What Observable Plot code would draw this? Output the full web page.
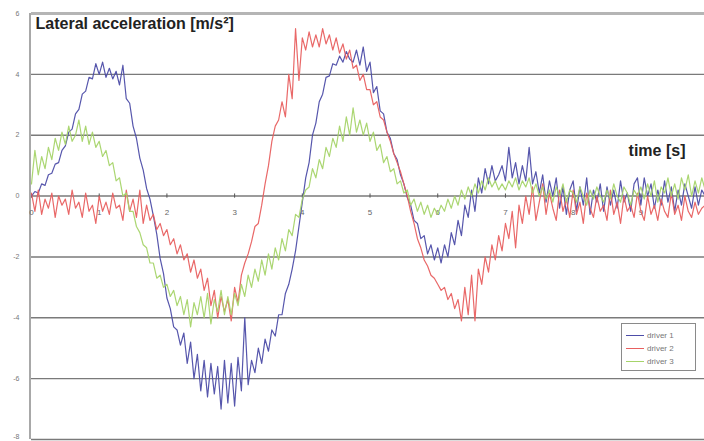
<!DOCTYPE html>
<html>
<head>
<meta charset="utf-8">
<script src="https://cdn.jsdelivr.net/npm/d3@7"></script>
<script src="https://cdn.jsdelivr.net/npm/@observablehq/plot@0.6"></script>
<style>
  html, body { margin: 0; padding: 0; background: #fff; }
  #wrap { position: relative; width: 704px; height: 441px; font-family: "Liberation Sans", Arial, sans-serif; }
  #legend { position: absolute; left: 621px; top: 323px; width: 75px; height: 48px; border: 1px solid #8a8a8a; background: #fff; box-sizing: border-box; font-size: 8px; color: #777; padding-top: 5px; }
  #legend .row { display: flex; align-items: center; height: 13px; }
  #legend .sw { display: inline-block; width: 18px; height: 0; border-top: 1px solid; margin: 0 3px 0 4px; }
</style>
</head>
<body>
<div id="wrap"></div>
<script>
// sample step of the recordings (s)
const step = 0.05;
const seriesNames = ["driver 1", "driver 2", "driver 3"];
const seriesColors = ["#4d4da8", "#e86060", "#a6d46a"];
const yTicks = [-8, -6, -4, -2, 0, 2, 4, 6];
const xTicks = [0, 1, 2, 3, 4, 5, 6, 7, 8, 9];

const driver1 = [
  0.0, 0.15, 0.1, 0.4, 0.35, 0.7, 0.75, 1.05, 1.1, 1.5,
  1.65, 2.1, 2.2, 2.7, 2.85, 3.35, 3.45, 3.9, 3.85, 4.35,
  4.0, 4.4, 3.9, 4.2, 3.85, 4.1, 3.65, 4.3, 3.2, 3.05,
  2.3, 1.9, 1.25, 0.85, 0.25, -0.1, -0.65, -1.25, -2.05, -2.55,
  -3.35, -3.7, -4.3, -4.4, -4.9, -4.5, -5.5, -4.8, -6.0, -5.2,
  -6.4, -5.4, -6.6, -5.5, -6.5, -5.6, -7.0, -5.4, -6.8, -5.5,
  -6.9, -5.3, -6.4, -4.0, -6.2, -5.4, -5.8, -5.0, -5.5, -4.7,
  -5.1, -4.4, -4.6, -3.9, -3.9, -3.2, -2.9, -2.4, -1.8, -1.0,
  -0.2, 0.6, 1.1, 2.0, 2.4, 3.1, 3.35, 3.9, 3.95, 4.35,
  4.3, 4.6, 4.4, 4.75, 4.5, 4.4, 4.8, 4.3, 4.9, 4.1,
  4.4, 3.4, 3.6, 2.8, 2.7, 2.1, 1.9, 1.4, 1.2, 0.7,
  0.4, -0.05, -0.3, -0.8, -0.9, -1.4, -1.3, -1.9, -1.6, -2.1,
  -1.7, -2.2, -1.6, -2.0, -1.2, -1.6, -0.8, -1.3, -0.3, -0.7,
  0.2, -0.5, 0.6, 0.1, 0.9, 0.4, 1.0, 0.5, 0.7, 1.0,
  0.5, 1.6, 0.6, 1.1, 0.4, 1.0, 0.5, 1.6, 0.4, 0.8,
  0.1, 0.7, -0.2, 0.5, 0.0, 0.6, -0.4, 0.3, -0.6, 0.2,
  0.5, -0.5, 0.3, -0.3, 0.6, -0.6, 0.2, -0.2, 0.4, -0.5,
  0.3, -0.3, 0.2, -0.4, 0.5, -0.2, 0.1, -0.5, 0.4, 0.6,
  -0.3, 0.6, 0.0, 0.4, -0.4, 0.2, -0.3, 0.5, -0.2, 0.3,
  -0.5, 0.2, -0.3, 0.4, 0.0, -0.4, 0.3, -0.3, 0.2, 0.0
];

const driver2 = [
  0.1, -0.5, 0.2, -0.6, -0.1, -0.4, 0.1, -0.7, 0.0, -0.3,
  -0.1, -0.6, 0.2, -0.4, -0.2, -0.7, 0.1, -0.5, -0.3, -0.9,
  0.0, -0.5, -0.2, -0.6, 0.1, -0.4, -0.3, -0.8, 0.2, -0.5,
  -0.1, -0.7, 0.2, -0.9, -0.3, -0.8, -0.6, -1.1, -0.9, -1.3,
  -1.1, -1.6, -1.4, -1.9, -1.6, -2.1, -1.9, -2.5, -2.1, -2.7,
  -2.4, -3.1, -2.7, -3.6, -3.1, -4.0, -3.3, -3.8, -3.4, -4.1,
  -3.0, -3.5, -2.6, -2.2, -1.9, -1.5, -1.0, -0.9, -0.3, 0.4,
  1.0, 1.8, 2.3, 2.5, 3.1, 2.6, 4.0, 3.2, 5.5, 3.8,
  5.2, 4.8, 5.4, 4.9, 5.3, 4.9, 5.5, 5.0, 5.3, 4.8,
  5.2, 4.7, 5.0, 4.5, 4.8, 4.2, 4.3, 3.8, 4.0, 3.5,
  3.5, 3.0, 3.1, 2.6, 2.5, 2.1, 1.8, 1.4, 1.1, 0.8,
  0.4, 0.0, -0.5, -0.9, -1.4, -1.7, -2.1, -2.3, -2.6, -2.7,
  -2.9, -3.1, -3.0, -3.4, -3.2, -3.7, -3.4, -4.1, -3.0, -3.9,
  -2.6, -4.1, -2.4, -2.9, -2.0, -2.5, -1.6, -2.1, -1.3, -1.8,
  -0.9, -1.4, -0.5, -1.7, -0.3, -0.9, 0.0, -0.6, 0.3, -0.8,
  -0.2, 0.4, -0.6, 0.1, -0.4, -0.8, 0.2, -0.5, -0.1, -0.7,
  0.2, -0.6, -0.2, -0.9, 0.1, -0.4, -0.7, 0.0, -0.5, -0.3,
  -0.8, 0.2, -0.6, -0.2, -0.9, 0.0, -0.5, -0.3, -0.7, 0.1,
  -0.5, -0.8, 0.0, -0.6, -0.3, -0.8, -0.1, -0.5, -0.7, 0.1,
  -0.6, -0.3, -0.8, 0.0, -0.5, -0.7, -0.2, -0.6, -0.4, -0.3
];

const driver3 = [
  0.4, 1.5, 0.7, 1.3, 0.9, 1.6, 1.2, 1.9, 1.5, 2.1,
  1.7, 2.3, 1.8, 2.0, 2.5, 1.8, 2.3, 1.7, 2.1, 1.6,
  1.8, 1.3, 1.5, 1.0, 1.1, 0.5, 0.6, 0.0, 0.1, -0.5,
  -0.5, -1.0, -1.2, -1.6, -1.7, -2.2, -2.2, -2.7, -2.6, -3.0,
  -2.9, -3.3, -3.1, -3.6, -3.3, -3.9, -3.4, -4.3, -3.5, -3.9,
  -3.3, -4.0, -3.2, -4.2, -3.4, -3.8, -3.1, -3.9, -3.3, -3.9,
  -3.2, -3.6, -2.9, -3.3, -2.6, -3.0, -2.4, -2.8, -2.1, -2.6,
  -1.9, -2.4, -1.7, -2.1, -1.4, -1.8, -1.1, -1.3, -0.6, -0.7,
  -0.1, 0.2, 0.3, 0.9, 0.6, 1.2, 0.9, 1.6, 1.3, 1.9,
  1.6, 2.3, 1.8, 2.6, 2.0, 2.9, 2.1, 2.5, 2.0, 2.4,
  1.8, 2.1, 1.5, 1.7, 1.1, 1.3, 0.8, 0.9, 0.4, 0.5,
  0.1, 0.2, -0.3, -0.1, -0.5, -0.2, -0.6, -0.3, -0.7, -0.4,
  -0.6, -0.3, -0.5, -0.1, -0.4, 0.0, -0.3, 0.2, -0.1, 0.3,
  0.0, 0.4, 0.1, 0.5, 0.2, 0.6, 0.3, 0.5, 0.2, 0.4,
  0.2, 0.5, 0.3, 0.6, 0.2, 0.5, 0.3, 0.6, 0.1, 0.4,
  0.0, 0.3, -0.1, 0.2, -0.2, 0.3, 0.0, 0.4, -0.2, 0.2,
  0.1, -0.2, 0.3, 0.0, -0.3, 0.2, -0.1, 0.3, 0.0, -0.2,
  0.2, -0.1, 0.4, 0.0, -0.2, 0.3, 0.1, -0.3, 0.2, 0.0,
  0.3, -0.1, 0.4, 0.0, 0.5, -0.2, 0.3, 0.1, 0.6, 0.0,
  0.4, -0.1, 0.6, 0.2, 0.7, 0.0, 0.5, 0.1, 0.6, 0.2
];

const seriesData = [driver1, driver2, driver3];
const tx = (d, i) => i * step;
const yLabelStyle = { x: 0, y: d => d, text: d => String(d), dx: -12, textAnchor: "end", fontSize: 7, fill: "#777" };

const plot = Plot.plot({
  width: 704,
  height: 441,
  marginLeft: 31,
  marginRight: 0,
  marginTop: 13,
  marginBottom: 2,
  x: { domain: [0, 9.94], axis: null },
  y: { domain: [-8, 6], axis: null },
  style: { fontFamily: "Liberation Sans, Arial, sans-serif", background: "#fff" },
  marks: [
    // gridlines
    Plot.ruleY(yTicks.filter(v => v !== 6), { stroke: "#7a7a7a", strokeWidth: 1.4 }),
    Plot.ruleY(yTicks.filter(v => v === 6), { stroke: "#b5b5b5", strokeWidth: 3 }),
    // y axis line
    Plot.ruleX([0], { dx: -1.5, stroke: "#a8a8a8", strokeWidth: 2 }),
    // y tick labels (bottom one nudged up so it stays inside the picture)
    Plot.text(yTicks.filter(v => v !== -8), yLabelStyle),
    Plot.text(yTicks.filter(v => v === -8), { ...yLabelStyle, dy: -3 }),
    // x ticks on zero line
    Plot.ruleX(xTicks, { y1: 0.07, y2: -0.07, stroke: "#555", strokeWidth: 1 }),
    Plot.text(xTicks, { x: d => d, y: 0, text: d => String(d), dy: 16, fontSize: 8, fill: "#666" }),
    // series
    ...seriesData.map((s, k) => Plot.line(s, { x: tx, y: d => d, stroke: seriesColors[k], strokeWidth: 1.2, strokeOpacity: 0.95 })),
    // title and axis label
    Plot.text(["Lateral acceleration [m/s²]"], { frameAnchor: "top-left", dx: 4, dy: 4, textAnchor: "start", lineAnchor: "top", fontSize: 16, fontWeight: "bold", fill: "#222" }),
    Plot.text(["time [s]"], { frameAnchor: "top-right", dx: -19, dy: 137, textAnchor: "end", lineAnchor: "middle", fontSize: 16, fontWeight: "bold", fill: "#222" })
  ]
});

const wrap = document.getElementById("wrap");
wrap.appendChild(plot);

const legend = document.createElement("div");
legend.id = "legend";
seriesNames.forEach((n, k) => {
  const row = document.createElement("div");
  row.className = "row";
  const sw = document.createElement("span");
  sw.className = "sw";
  sw.style.borderTopColor = seriesColors[k];
  const lab = document.createElement("span");
  lab.textContent = n;
  row.appendChild(sw);
  row.appendChild(lab);
  legend.appendChild(row);
});
wrap.appendChild(legend);
</script>
</body>
</html>
